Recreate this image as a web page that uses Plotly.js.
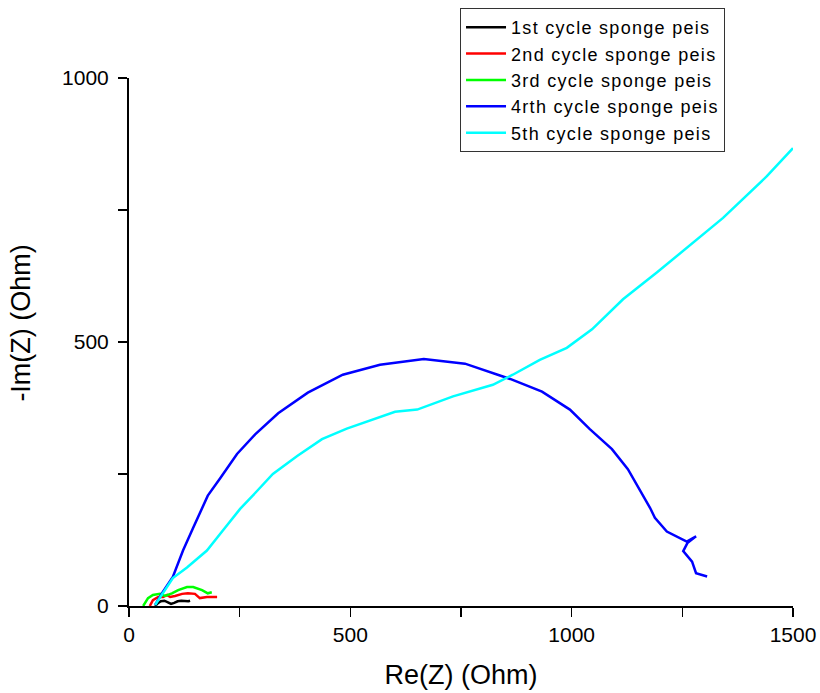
<!DOCTYPE html>
<html>
<head>
<meta charset="utf-8">
<script src="https://cdn.plot.ly/plotly-3.0.1.min.js"></script>
<style>
html,body{margin:0;padding:0;background:#fff;}
#chart{width:820px;height:693px;}
.legendtext{letter-spacing:1.3px;}
</style>
</head>
<body>
<div id="chart"></div>
<script>
// Series names
const seriesNames = [
  "1st cycle sponge peis",
  "2nd cycle sponge peis",
  "3rd cycle sponge peis",
  "4rth cycle sponge peis",
  "5th cycle sponge peis"
];
const seriesColors = ["#000000", "#ff0000", "#00ff00", "#0000ff", "#00ffff"];

// 1st cycle
const re1 = [59, 66, 72, 80, 88, 95, 102, 110, 118, 126, 134, 138];
const im1 = [0, 6, 9, 10, 7, 4, 6, 9, 10, 9, 9, 10];
// 2nd cycle
const re2 = [47, 54, 66, 77, 86, 93, 104, 120, 133, 149, 160, 176, 190, 199];
const im2 = [0, 11, 17, 17, 21, 17, 19, 23, 24, 23, 15, 17, 17, 17];
// 3rd cycle
const re3 = [32, 43, 54, 70, 81, 97, 111, 131, 145, 165, 178, 187];
const im3 = [0, 15, 21, 23, 19, 24, 30, 36, 36, 30, 24, 26];
// 4rth cycle
const re4 = [59, 75, 99, 122, 145, 178, 206, 244, 285, 337, 404, 483, 567, 666, 759, 861, 933, 996, 1041, 1091, 1127, 1177, 1188, 1215, 1260, 1281, 1262, 1252, 1272, 1281, 1306];
const im4 = [2, 25, 55, 105, 148, 209, 242, 288, 325, 365, 404, 438, 457, 468, 459, 430, 406, 372, 335, 297, 259, 186, 167, 141, 122, 132, 120, 104, 84, 62, 56];
// 5th cycle
const re5 = [59, 77, 99, 131, 176, 212, 251, 285, 325, 380, 436, 492, 567, 601, 651, 732, 822, 867, 928, 989, 1046, 1116, 1193, 1260, 1342, 1441, 1500];
const im5 = [2, 24, 53, 73, 105, 143, 184, 214, 250, 284, 316, 336, 359, 368, 372, 397, 419, 438, 466, 489, 524, 581, 632, 679, 735, 814, 867];

const xs = [re1, re2, re3, re4, re5];
const ys = [im1, im2, im3, im4, im5];

const traces = xs.map((x, i) => ({
  x: x, y: ys[i], type: "scatter", mode: "lines",
  name: seriesNames[i],
  line: {color: seriesColors[i], width: 2.5}
}));

const font = "Liberation Sans, Arial, sans-serif";
const layout = {
  width: 820, height: 693,
  margin: {l: 129, r: 27, t: 78, b: 87, autoexpand: false},
  paper_bgcolor: "#fff", plot_bgcolor: "#fff",
  font: {family: font, color: "#000"},
  showlegend: true,
  legend: {
    xref: "container", yref: "container",
    x: 0.561, y: 0.9885, xanchor: "left", yanchor: "top",
    bordercolor: "#333", borderwidth: 1, bgcolor: "#fff",
    font: {family: font, size: 18, color: "#000"},
    tracegroupgap: 0, itemwidth: 40
  },
  xaxis: {
    range: [0, 1500], tickvals: [0, 500, 1000, 1500],
    ticks: "outside", ticklen: 9, tickwidth: 1.5, tickcolor: "#000",
    minor: {tickvals: [250, 750, 1250], ticks: "outside", ticklen: 9, tickwidth: 1.5, tickcolor: "#000"},
    showline: true, linecolor: "#000", linewidth: 2,
    showgrid: false, zeroline: false,
    tickfont: {family: font, size: 21, color: "#000"},
    title: {text: "Re(Z) (Ohm)", font: {family: font, size: 27, color: "#000"}, standoff: 20}
  },
  yaxis: {
    range: [0, 1000], tickvals: [0, 500, 1000],
    ticks: "outside", ticklen: 9, tickwidth: 1.5, tickcolor: "#000",
    minor: {tickvals: [250, 750], ticks: "outside", ticklen: 9, tickwidth: 1.5, tickcolor: "#000"},
    showline: true, linecolor: "#000", linewidth: 2,
    showgrid: false, zeroline: false,
    ticklabelstandoff: 5,
    tickfont: {family: font, size: 21, color: "#000"}
  },
  annotations: [{
    text: "-Im(Z) (Ohm)", textangle: -90, showarrow: false,
    xref: "paper", yref: "paper",
    x: -0.164, y: 0.535, xanchor: "center", yanchor: "middle",
    font: {family: font, size: 27, color: "#000"}
  }]
};

Plotly.newPlot("chart", traces, layout, {displayModeBar: false, staticPlot: true});
</script>
</body>
</html>
